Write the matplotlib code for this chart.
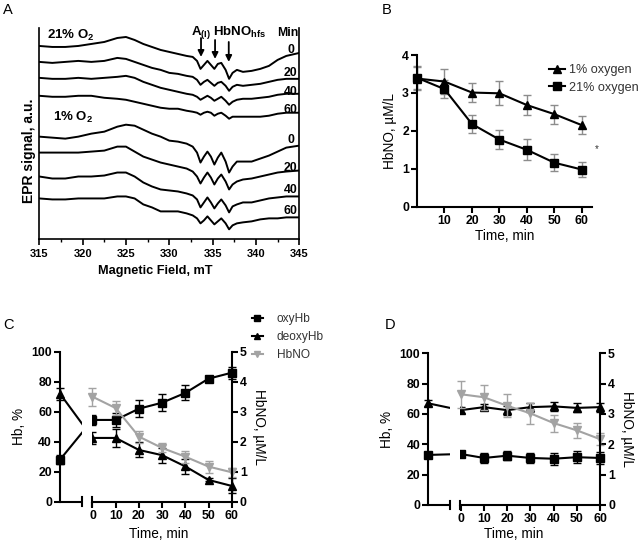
import matplotlib.pyplot as plt
from matplotlib.lines import Line2D

plt.rcParams['font.family'] = ['Liberation Sans', 'DejaVu Sans']
plt.rcParams['mathtext.fontset'] = 'custom'
plt.rcParams['mathtext.rm'] = 'Liberation Sans'
plt.rcParams['mathtext.bf'] = 'Liberation Sans:bold'

# ---- panel A: EPR spectra (signal heights, a.u.) ----
field = [315, 316.5, 318, 319.5, 321, 322.5, 324, 325, 326, 327, 328, 329, 330, 331, 332,
         332.7, 333.2, 333.6, 334.0, 334.4, 334.8, 335.2, 335.6, 336.0, 336.5, 336.9, 337.3,
         337.8, 338.5, 339.5, 340.5, 341.5, 342.5, 343.5, 345]

epr_21_0 = [194, 193, 193, 194, 196, 198, 202, 203, 200, 196, 193, 190, 188, 186, 184,
            183, 179, 171, 175, 179, 175, 171, 176, 177, 170, 161, 167,
            170, 168, 169, 171, 174, 180, 184, 187]
epr_21_20 = [178, 177, 178, 179, 178, 179, 182, 181, 178, 175, 172, 170, 167, 166, 164,
             163, 160, 155, 158, 160, 157, 154, 157, 158, 154, 149, 153,
             155, 154, 155, 156, 158, 160, 161, 161]
epr_21_40 = [162, 161, 161, 162, 161, 162, 163, 164, 162, 158, 155, 152, 150, 148, 146,
             145, 143, 140, 142, 144, 142, 139, 141, 143, 139, 135, 138,
             140, 141, 141, 142, 143, 145, 146, 146]
epr_21_60 = [144, 143, 143, 144, 144, 142, 141, 140, 138, 136, 134, 132, 131, 131, 129,
             128, 127, 125, 127, 128, 127, 124, 126, 127, 124, 121, 123,
             123, 123, 123, 123, 124, 126, 127, 127]
epr_1_0 = [103, 102, 101, 103, 106, 108, 113, 115, 114, 110, 106, 103, 99, 98, 96,
           93, 87, 77, 83, 88, 83, 75, 82, 87, 78, 67, 73,
           78, 78, 78, 81, 84, 88, 92, 94]
epr_1_20 = [87, 87, 87, 87, 88, 89, 93, 93, 88, 83, 80, 77, 75, 73, 71,
            68, 63, 56, 62, 67, 62, 55, 61, 65, 58, 50, 55,
            58, 60, 61, 63, 65, 67, 68, 69]
epr_1_40 = [63, 61, 61, 63, 63, 64, 67, 67, 63, 57, 53, 50, 49, 48, 46,
            44, 40, 32, 37, 42, 37, 31, 36, 40, 34, 27, 33,
            35, 37, 37, 39, 41, 42, 43, 43]
epr_1_60 = [41, 40, 40, 41, 41, 41, 43, 43, 41, 35, 32, 28, 28, 28, 26,
            24, 21, 16, 19, 23, 19, 15, 18, 21, 16, 10, 14,
            16, 17, 18, 20, 21, 21, 22, 22]
spectrum_minutes = ['0', '20', '40', '60']
hfs_lines = [333.66, 335.28, 336.86]

# ---- panel B ----
times = [0, 10, 20, 30, 40, 50, 60]
hbno_1pct = [3.38, 3.30, 3.01, 2.99, 2.68, 2.44, 2.15]
hbno_1pct_err = [0.30, 0.33, 0.24, 0.32, 0.26, 0.25, 0.24]
hbno_21pct = [3.40, 3.10, 2.18, 1.77, 1.50, 1.16, 0.98]
hbno_21pct_err = [0.30, 0.23, 0.23, 0.25, 0.28, 0.22, 0.19]

# ---- panel C (21% O2) ----
c_oxy_base, c_oxy_base_err = 28, 3
c_oxy = [54.5, 54.5, 62, 66, 72.5, 82, 86]
c_oxy_err = [3.5, 4.5, 5.5, 5.5, 5, 1, 4]
c_deoxy_base, c_deoxy_base_err = 72, 4
c_deoxy = [42.5, 42.5, 34.5, 31, 23.5, 14.5, 10.5]
c_deoxy_err = [4, 6, 5, 5, 5, 1, 5]
c_hbno = [3.5, 3.12, 2.17, 1.79, 1.5, 1.17, 0.98]
c_hbno_err = [0.3, 0.22, 0.2, 0.15, 0.2, 0.2, 0.15]

# ---- panel D (1% O2) ----
d_oxy_base, d_oxy_base_err = 33, 2
d_oxy = [33.6, 31, 32.5, 31, 30.5, 31.5, 31]
d_oxy_err = [2, 3, 3, 3.5, 4, 4, 4]
d_deoxy_base, d_deoxy_base_err = 67, 2
d_deoxy = [62.5, 64.5, 62.5, 64.5, 65, 64, 64.5]
d_deoxy_err = [2, 2, 3, 3, 3, 3, 3]
d_hbno = [3.65, 3.55, 3.27, 3.02, 2.7, 2.46, 2.17]
d_hbno_err = [0.45, 0.42, 0.38, 0.35, 0.28, 0.25, 0.2]

GREY = '#a3a3a3'
LW = 1.5
TICK_FS = 8.8
LABEL_FS = 9.8

fig = plt.figure(figsize=(6.4, 5.43), dpi=100)
fig.patch.set_facecolor('white')


def bold_ticks(ax):
    for lab in ax.get_xticklabels() + ax.get_yticklabels():
        lab.set_fontweight('bold')


# ================= A =================
axA = fig.add_axes([0.0614, 0.5593, 0.40625, 0.3891])
for trace in [epr_21_0, epr_21_20, epr_21_40, epr_21_60, epr_1_0, epr_1_20, epr_1_40, epr_1_60]:
    axA.plot(field, trace, color='k', lw=1.4)
axA.set_xlim(315, 345)
axA.set_ylim(0, 212)
axA.spines['top'].set_visible(False)
for s in ['left', 'right', 'bottom']:
    axA.spines[s].set_linewidth(1.2)
axA.set_yticks([])
axA.set_xticks(range(315, 346, 5))
axA.set_xticks([317.5 + 5 * i for i in range(6)], minor=True)
axA.tick_params(axis='x', which='major', direction='out', length=4, width=1.2, labelsize=8, pad=3)
axA.tick_params(axis='x', which='minor', direction='out', length=2.5, width=1.0)
bold_ticks(axA)
axA.set_xlabel('Magnetic Field, mT', fontsize=9.2, fontweight='bold')
axA.xaxis.set_label_coords(0.445, -0.122)
axA.set_ylabel('EPR signal, a.u.', fontsize=10, fontweight='bold')
axA.yaxis.set_label_coords(-0.013, 0.418)

axA.text(315.9, 205, r'21% O$_\mathbf{2}$', fontsize=9.5, fontweight='bold', va='center')
axA.text(316.6, 122, r'1% O$_\mathbf{2}$', fontsize=9.5, fontweight='bold', va='center')
axA.text(332.5, 208, r'A$_\mathbf{(I)}$', fontsize=9.5, fontweight='bold', va='center')
axA.text(335.0, 208, r'HbNO$_\mathbf{hfs}$', fontsize=9.5, fontweight='bold', va='center')
axA.text(344.85, 207, 'Min', fontsize=8.8, fontweight='bold', va='center', ha='right')
for lab, h in zip(spectrum_minutes, [190, 166.7, 148.3, 130]):
    axA.text(344.0, h, lab, fontsize=8.8, fontweight='bold', va='center', ha='center')
for lab, h in zip(spectrum_minutes, [99.3, 71.7, 49, 28.3]):
    axA.text(344.0, h, lab, fontsize=8.8, fontweight='bold', va='center', ha='center')
for xh, (top, bot) in zip(hfs_lines, [(202, 183), (200, 181), (198, 178)]):
    axA.annotate('', xy=(xh, bot), xytext=(xh, top),
                 arrowprops=dict(arrowstyle='-|>', color='k', lw=1.3, mutation_scale=9,
                                 shrinkA=0, shrinkB=0))

# ================= B =================
axB = fig.add_axes([0.6516, 0.6193, 0.273, 0.2794])
axB.errorbar(times, hbno_1pct, yerr=hbno_1pct_err, fmt='-^', color='k', ms=5.5, lw=LW,
             ecolor='#8c8c8c', elinewidth=1, capsize=3, capthick=1, clip_on=False,
             label='1% oxygen')
axB.errorbar(times, hbno_21pct, yerr=hbno_21pct_err, fmt='-s', color='k', ms=5.5, lw=LW,
             ecolor='#8c8c8c', elinewidth=1, capsize=3, capthick=1, clip_on=False,
             label='21% oxygen')
axB.set_xlim(0, 63.6)
axB.set_ylim(0, 4)
axB.set_xticks([10, 20, 30, 40, 50, 60])
axB.set_yticks([0, 1, 2, 3, 4])
for s in ['top', 'right']:
    axB.spines[s].set_visible(False)
for s in ['left', 'bottom']:
    axB.spines[s].set_linewidth(LW)
axB.tick_params(direction='out', length=4, width=LW, labelsize=TICK_FS, pad=1.8)
bold_ticks(axB)
axB.set_xlabel('Time, min', fontsize=LABEL_FS)
axB.xaxis.set_label_coords(0.5, -0.15)
axB.set_ylabel('HbNO, µM/L', fontsize=LABEL_FS)
b_handles = [Line2D([], [], color='k', lw=LW, marker='^', ms=5.5),
             Line2D([], [], color='k', lw=LW, marker='s', ms=5.5)]
fig.legend(b_handles, ['1% oxygen', '21% oxygen'], loc='upper left',
           bbox_to_anchor=(549 / 640, 1 - 64.5 / 543), frameon=False, fontsize=9.1,
           handlelength=1.25, handletextpad=0.3, labelspacing=0.4, borderpad=0,
           borderaxespad=0, labelcolor='#333333')
fig.text(597 / 640, 1 - 149 / 543, '*', fontsize=7, ha='center', va='center', color='#333333')


# ================= C & D =================
def hb_panel(rect, oxy_base, oxy_base_err, oxy, oxy_err, deoxy_base, deoxy_base_err,
             deoxy, deoxy_err, hbno, hbno_err, xlabel_xy):
    base_pos = -14
    ax = fig.add_axes(rect)
    ax.set_xlim(base_pos, 60)
    ax.set_ylim(0, 100)
    ax.errorbar([base_pos] + times, [oxy_base] + oxy, yerr=[oxy_base_err] + oxy_err,
                fmt='-s', color='k', ms=5.5, lw=LW, elinewidth=1, capsize=3, capthick=1,
                clip_on=False, zorder=2)
    ax.errorbar([base_pos] + times, [deoxy_base] + deoxy, yerr=[deoxy_base_err] + deoxy_err,
                fmt='-^', color='k', ms=5.5, lw=LW, elinewidth=1, capsize=3, capthick=1,
                clip_on=False, zorder=2)
    # break in the x axis
    ax.axvspan(-4.6, -0.2, color='white', lw=0, zorder=2.6)
    tr = ax.get_xaxis_transform()
    ax.plot([base_pos, -4.6], [0, 0], transform=tr, color='k', lw=LW, clip_on=False,
            solid_capstyle='butt', zorder=3)
    for xb in [-4.6, -0.2]:
        ax.plot([xb, xb], [-0.028, 0.028], transform=tr, color='k', lw=LW, clip_on=False,
                zorder=3)
    ax.spines['bottom'].set_bounds(-0.2, 60)
    for s in ['top', 'right']:
        ax.spines[s].set_visible(False)
    for s in ['left', 'bottom']:
        ax.spines[s].set_linewidth(LW)
    ax.set_xticks(times)
    ax.set_yticks([0, 20, 40, 60, 80, 100])
    ax.tick_params(direction='out', length=4, width=LW, labelsize=TICK_FS, pad=1.8)
    bold_ticks(ax)
    ax.set_xlabel('Time, min', fontsize=LABEL_FS)
    ax.xaxis.set_label_coords(*xlabel_xy)
    ax.set_ylabel('Hb, %', fontsize=LABEL_FS)

    ax2 = ax.twinx()
    ax2.set_ylim(0, 5)
    ax2.errorbar(times, hbno, yerr=hbno_err, fmt='-v', color=GREY, ms=5.5, lw=LW,
                 elinewidth=1, capsize=3, capthick=1, clip_on=False)
    for s in ['top', 'left', 'bottom']:
        ax2.spines[s].set_visible(False)
    ax2.spines['right'].set_linewidth(LW)
    ax2.set_yticks([0, 1, 2, 3, 4, 5])
    ax2.tick_params(direction='out', length=4, width=LW, labelsize=TICK_FS, pad=1.8)
    bold_ticks(ax2)
    ax2.set_ylabel('HbNO, µM/L', fontsize=LABEL_FS, rotation=270, va='bottom')
    return ax, ax2


axC, axC2 = hb_panel([0.09375, 0.0761, 0.2683, 0.2762], c_oxy_base, c_oxy_base_err, c_oxy,
                     c_oxy_err, c_deoxy_base, c_deoxy_base_err, c_deoxy, c_deoxy_err,
                     c_hbno, c_hbno_err, (0.577, -0.172))
axD, axD2 = hb_panel([0.6692, 0.07, 0.2683, 0.2794], d_oxy_base, d_oxy_base_err, d_oxy,
                     d_oxy_err, d_deoxy_base, d_deoxy_base_err, d_deoxy, d_deoxy_err,
                     d_hbno, d_hbno_err, (0.5, -0.142))

c_handles = [Line2D([], [], color='k', lw=LW, marker='s', ms=5),
             Line2D([], [], color='k', lw=LW, marker='^', ms=5),
             Line2D([], [], color=GREY, lw=LW, marker='v', ms=5)]
fig.legend(c_handles, ['oxyHb', 'deoxyHb', 'HbNO'], loc='upper left',
           bbox_to_anchor=(251.5 / 640, 1 - 313 / 543), frameon=False, fontsize=8.6,
           handlelength=1.0, handletextpad=1.1, labelspacing=0.5, borderpad=0,
           borderaxespad=0, labelcolor='#333333')

# panel letters
for letter, (px, py) in zip('ABCD', [(3, 3), (382, 3), (3, 318), (385, 318)]):
    fig.text(px / 640, 1 - py / 543, letter, fontsize=10.5, va='top', ha='left')

plt.savefig('out.png', dpi=100, facecolor='white')
